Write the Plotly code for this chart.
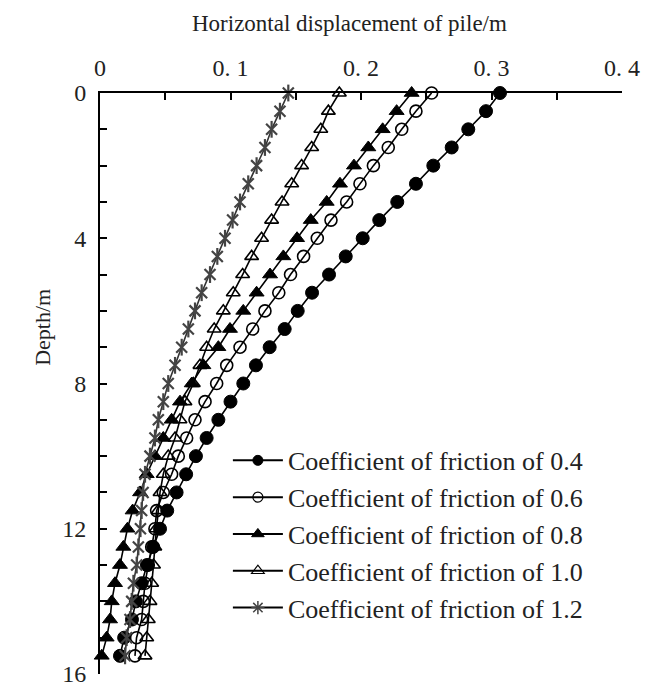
import plotly.graph_objects as go

depth = [i * 0.5 for i in range(32)]

mu_04 = [0.3065, 0.2958, 0.2822, 0.2695, 0.2554, 0.2421, 0.2278, 0.2140, 0.2013, 0.1883,
         0.1755, 0.1625, 0.1515, 0.1415, 0.1300, 0.1195, 0.1098, 0.1000, 0.0907, 0.0817,
         0.0735, 0.0660, 0.0587, 0.0515, 0.0460, 0.0408, 0.0360, 0.0319, 0.0275, 0.0245,
         0.0185, 0.0153]
mu_06 = [0.2541, 0.2421, 0.2312, 0.2209, 0.2095, 0.1992, 0.1890, 0.1770, 0.1665, 0.1560,
         0.1460, 0.1370, 0.1264, 0.1170, 0.1073, 0.0971, 0.0894, 0.0805, 0.0728, 0.0664,
         0.0600, 0.0549, 0.0485, 0.0434, 0.0421, 0.0396, 0.0370, 0.0345, 0.0332, 0.0319,
         0.0280, 0.0268]
mu_08 = [0.2388, 0.2273, 0.2166, 0.2056, 0.1946, 0.1839, 0.1737, 0.1615, 0.1510, 0.1405,
         0.1303, 0.1200, 0.1098, 0.0996, 0.0907, 0.0792, 0.0703, 0.0613, 0.0549, 0.0485,
         0.0421, 0.0358, 0.0307, 0.0250, 0.0210, 0.0179, 0.0153, 0.0115, 0.0090, 0.0077,
         0.0051, 0.0013]
mu_10 = [0.1834, 0.1750, 0.1692, 0.1622, 0.1545, 0.1469, 0.1395, 0.1315, 0.1238, 0.1162,
         0.1093, 0.1021, 0.0945, 0.0875, 0.0817, 0.0766, 0.0715, 0.0651, 0.0613, 0.0575,
         0.0523, 0.0485, 0.0460, 0.0445, 0.0430, 0.0420, 0.0410, 0.0396, 0.0383, 0.0370,
         0.0358, 0.0345]
mu_12 = [0.1443, 0.1379, 0.1315, 0.1264, 0.1200, 0.1136, 0.1073, 0.1016, 0.0958, 0.0899,
         0.0843, 0.0779, 0.0728, 0.0677, 0.0626, 0.0575, 0.0523, 0.0485, 0.0447, 0.0421,
         0.0383, 0.0345, 0.0330, 0.0319, 0.0310, 0.0294, 0.0281, 0.0256, 0.0243, 0.0230,
         0.0204, 0.0192]

names = ["Coefficient of friction of 0.4", "Coefficient of friction of 0.6",
         "Coefficient of friction of 0.8", "Coefficient of friction of 1.0",
         "Coefficient of friction of 1.2"]
x_tickvals = [0, 0.1, 0.2, 0.3, 0.4]
x_ticktext = ["0", "0. 1", "0. 2", "0. 3", "0. 4"]
y_tickvals = [0, 4, 8, 12, 16]

STAR = "#444444"
series = [mu_04, mu_06, mu_08, mu_10, mu_12]
styles = [
    dict(symbol="circle", size=13, color="black", line=dict(color="black", width=1)),
    dict(symbol="circle-open", size=12, color="black", line=dict(color="black", width=1.6)),
    dict(symbol="triangle-up", size=13, color="black", line=dict(color="black", width=1)),
    dict(symbol="triangle-up-open", size=12, color="black", line=dict(color="black", width=1.6)),
    dict(symbol="x-thin-open", size=11, color=STAR, line=dict(color=STAR, width=2.2)),
]
legend_styles = [
    dict(symbol="circle", size=10, color="black", line=dict(color="black", width=1)),
    dict(symbol="circle-open", size=10, color="black", line=dict(color="black", width=1.2)),
    dict(symbol="triangle-up", size=11, color="black", line=dict(color="black", width=1)),
    dict(symbol="triangle-up-open", size=11, color="black", line=dict(color="black", width=1.2)),
    dict(symbol="asterisk-open", size=11, color=STAR, line=dict(color=STAR, width=1.5)),
]
line_colors = ["black", "black", "black", "black", "#333333"]

fig = go.Figure()
for vals, st, lc in zip(series, styles, line_colors):
    fig.add_trace(go.Scatter(x=vals, y=depth, mode="lines+markers",
                             line=dict(color=lc, width=1.6), marker=st,
                             showlegend=False, cliponaxis=False))
# vertical bar of the star markers
fig.add_trace(go.Scatter(x=mu_12, y=depth, mode="markers",
                         marker=dict(symbol="line-ns-open", size=12, color=STAR,
                                     line=dict(color=STAR, width=2.2)),
                         showlegend=False, cliponaxis=False))
# legend entries
for i, (nm, st, lc) in enumerate(zip(names, legend_styles, line_colors)):
    fig.add_trace(go.Scatter(x=[None], y=[None], mode="lines+markers", name=nm,
                             legendgroup=f"g{i}",
                             line=dict(color="black", width=2), marker=st))

font_serif = "Liberation Serif"
TXT = "#222222"
fig.update_layout(
    width=646, height=686,
    margin=dict(l=100, r=24, t=93, b=12, autoexpand=False),
    paper_bgcolor="white", plot_bgcolor="white",
    font=dict(family=font_serif, size=24, color="black"),
    showlegend=True,
    legend=dict(x=0.245, y=0.408, xanchor="left", yanchor="top",
                bgcolor="rgba(0,0,0,0)", font=dict(family=font_serif, size=26, color=TXT),
                traceorder="grouped", tracegroupgap=0, itemwidth=50),
    xaxis=dict(side="top", range=[0, 0.4], tickvals=x_tickvals, ticktext=x_ticktext,
               ticks="inside", ticklen=7, tickwidth=1.5, tickcolor="black",
               minor=dict(dtick=0.05, ticks="inside", ticklen=7, tickwidth=1.5, tickcolor="black"),
               showline=True, linecolor="black", linewidth=1.8, automargin=False,
               showgrid=False, zeroline=False, ticklabelstandoff=6,
               tickfont=dict(family=font_serif, size=24, color=TXT)),
    yaxis=dict(range=[16, 0], tickvals=y_tickvals,
               ticks="inside", ticklen=7, tickwidth=1.5, tickcolor="black",
               minor=dict(dtick=1, ticks="inside", ticklen=7, tickwidth=1.5, tickcolor="black"),
               showline=True, linecolor="black", linewidth=1.8, automargin=False,
               showgrid=False, zeroline=False, ticklabelstandoff=7,
               ticklabeloverflow="allow",
               tickfont=dict(family=font_serif, size=24, color=TXT)),
    annotations=[
        dict(text="Horizontal displacement of pile/m", xref="paper", yref="paper",
             x=0.478, y=1.12, showarrow=False, xanchor="center", yanchor="middle",
             font=dict(family=font_serif, size=23, color=TXT)),
        dict(text="Depth/m", xref="paper", yref="paper", x=-0.109, y=0.596,
             showarrow=False, textangle=-90, xanchor="center", yanchor="middle",
             font=dict(family=font_serif, size=22, color=TXT)),
    ],
)
fig.write_html("out.html")
